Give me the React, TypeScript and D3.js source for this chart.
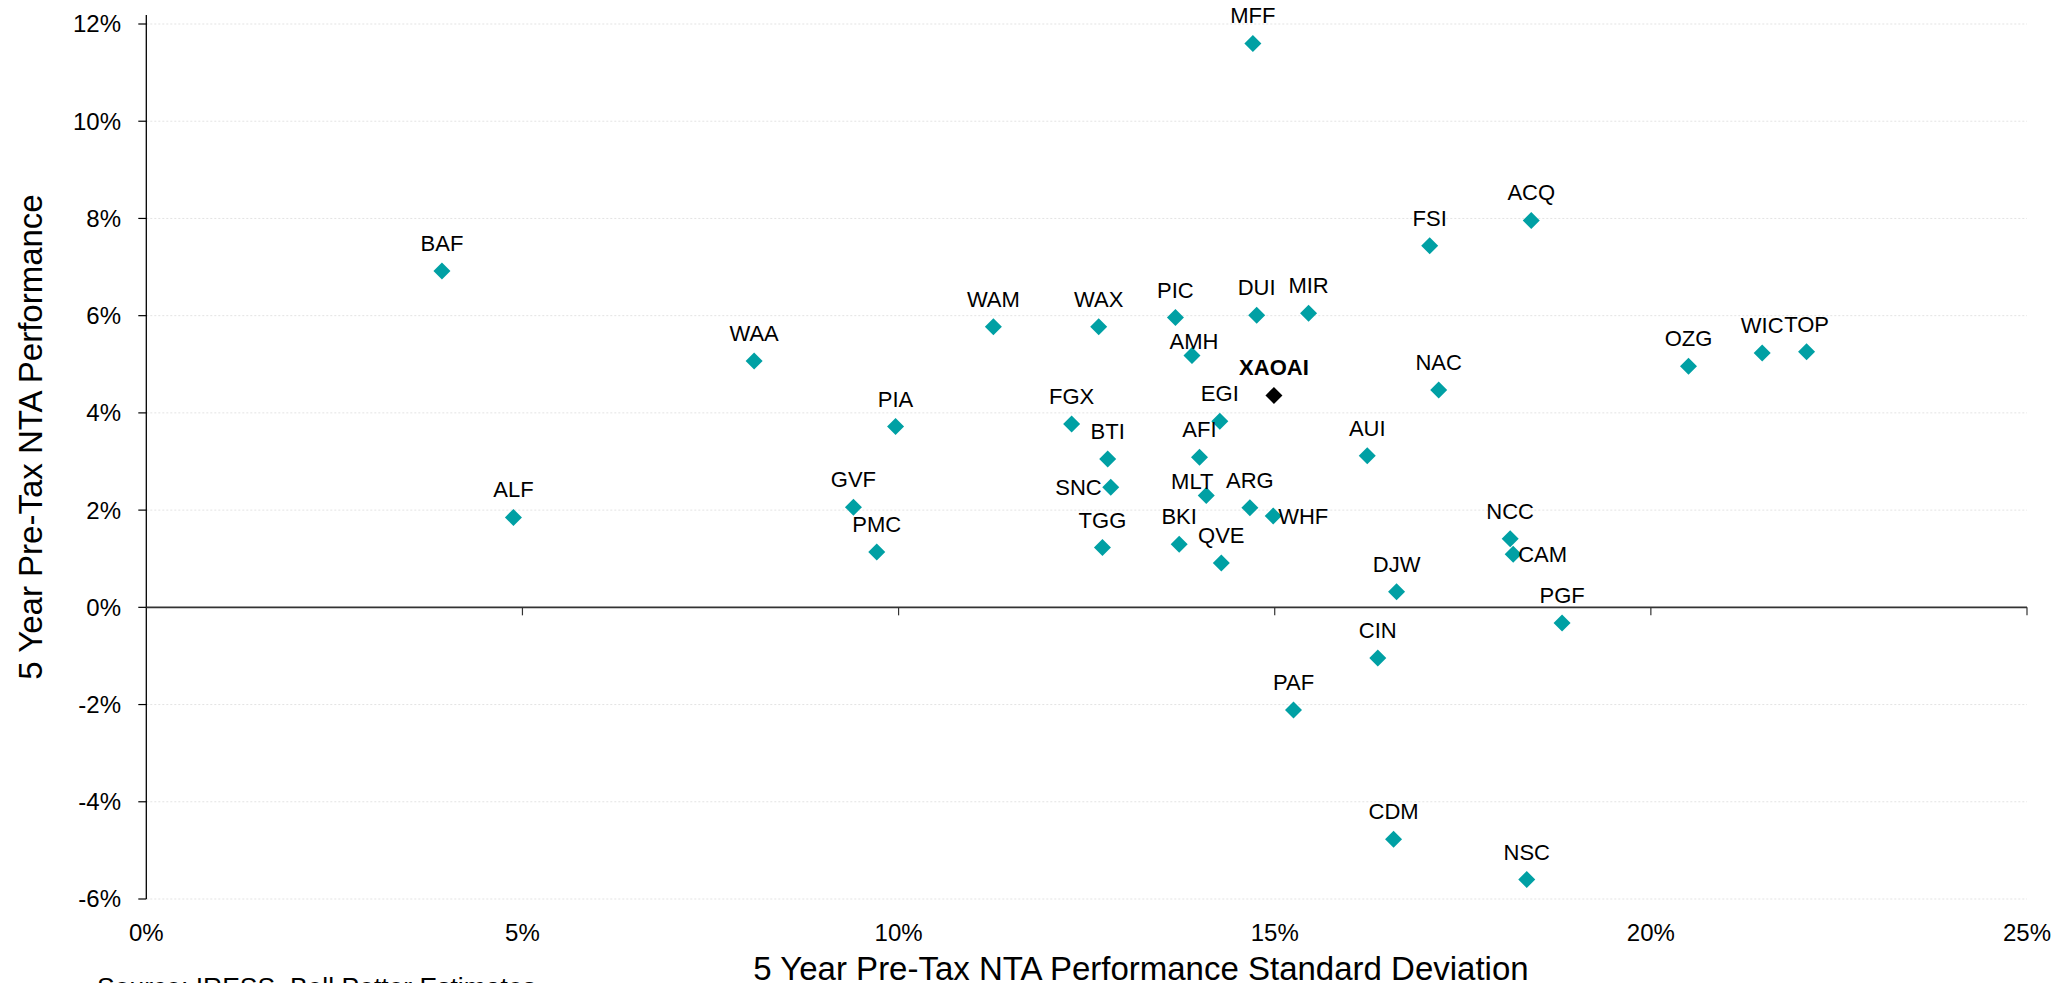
import React from 'react';
import * as d3 from 'd3';

// fund codes, 5yr std dev (%) and 5yr pre-tax NTA performance (%)
const codes = ['BAF', 'ALF', 'WAA', 'PIA', 'GVF', 'PMC', 'WAM', 'FGX', 'WAX', 'BTI',
  'SNC', 'TGG', 'PIC', 'AMH', 'BKI', 'AFI', 'MLT', 'EGI', 'QVE', 'ARG',
  'MFF', 'DUI', 'XAOAI', 'WHF', 'PAF', 'MIR', 'AUI', 'CIN', 'CDM', 'DJW',
  'FSI', 'NAC', 'NCC', 'CAM', 'NSC', 'ACQ', 'PGF', 'OZG', 'WIC', 'TOP'];

const stdDev = [3.93, 4.88, 8.08, 9.96, 9.40, 9.71, 11.26, 12.30, 12.66, 12.78,
  12.82, 12.71, 13.68, 13.90, 13.73, 14.00, 14.09, 14.27, 14.29, 14.67,
  14.71, 14.76, 14.99, 14.98, 15.25, 15.45, 16.23, 16.37, 16.58, 16.62,
  17.06, 17.18, 18.13, 18.17, 18.35, 18.41, 18.82, 20.50, 21.48, 22.07];

const performance = [6.92, 1.85, 5.07, 3.72, 2.06, 1.14, 5.77, 3.77, 5.77, 3.05,
  2.47, 1.23, 5.96, 5.18, 1.30, 3.09, 2.30, 3.83, 0.91, 2.05,
  11.60, 6.01, 4.36, 1.88, -2.11, 6.05, 3.12, -1.04, -4.77, 0.32,
  7.44, 4.47, 1.41, 1.09, -5.60, 7.96, -0.32, 4.96, 5.23, 5.26];

const benchmark = 'XAOAI';

const xTicks = [0, 5, 10, 15, 20, 25];
const yTicks = [-6, -4, -2, 0, 2, 4, 6, 8, 10, 12];

// labels that excel had nudged off the default "above" spot
const labelPos = {
  SNC: { side: 'left' },
  WHF: { side: 'right' },
  CAM: { side: 'right' },
  AMH: { dx: 2, dy: 13 },
  MLT: { dx: -14, dy: 13 },
};

const W = 2071;
const H = 983;
const font = 'Liberation Sans, Arial, sans-serif';

const App = () => {
  const x = d3.scaleLinear().domain([0, 25]).range([146.3, 2027]);
  const y = d3.scaleLinear().domain([-6, 12]).range([899, 24]);

  const points = codes.map((c, i) => ({ code: c, sd: stdDev[i], perf: performance[i] }));

  const diamond = (cx, cy) => `M${cx},${cy - 8.5}L${cx + 8.5},${cy}L${cx},${cy + 8.5}L${cx - 8.5},${cy}Z`;

  return (
    <svg width={W} height={H} style={{ position: 'absolute', left: 0, top: 0, background: '#fff' }}>
      {/* gridlines */}
      {yTicks.filter(t => t !== 0).map(t => (
        <line key={'g' + t} x1={x(0)} x2={x(25)} y1={y(t)} y2={y(t)}
          stroke="#e3e3e3" strokeWidth={1} strokeDasharray="2,2" />
      ))}

      {/* y axis */}
      <line x1={x(0)} x2={x(0)} y1={y(12) - 9} y2={y(-6)} stroke="#000" strokeWidth={1.3} />
      {yTicks.map(t => (
        <g key={'y' + t}>
          <line x1={x(0) - 8} x2={x(0)} y1={y(t)} y2={y(t)} stroke="#000" strokeWidth={1.2} />
          <text x={121} y={y(t)} dy="0.35em" textAnchor="end" fontFamily={font} fontSize={24} fill="#000">
            {t + '%'}
          </text>
        </g>
      ))}

      {/* x axis along zero */}
      <line x1={x(0)} x2={x(25)} y1={y(0)} y2={y(0)} stroke="#333" strokeWidth={1.6} />
      {xTicks.map(t => (
        <g key={'x' + t}>
          {t > 0 && <line x1={x(t)} x2={x(t)} y1={y(0)} y2={y(0) + 8} stroke="#333" strokeWidth={1.2} />}
          <text x={x(t)} y={941} textAnchor="middle" fontFamily={font} fontSize={24} fill="#000">
            {t + '%'}
          </text>
        </g>
      ))}

      {/* axis titles */}
      <text transform={`translate(42,437) rotate(-90)`} textAnchor="middle" fontFamily={font} fontSize={33} fill="#000">
        5 Year Pre-Tax NTA Performance
      </text>
      <text x={1141} y={980} textAnchor="middle" fontFamily={font} fontSize={33} fill="#000">
        5 Year Pre-Tax NTA Performance Standard Deviation
      </text>
      <text x={97} y={996} fontFamily={font} fontSize={26.5} fill="#000">
        Source: IRESS, Bell Potter Estimates
      </text>

      {/* points */}
      {points.map(p => {
        const cx = x(p.sd);
        const cy = y(p.perf);
        const isBench = p.code === benchmark;
        return (
          <path key={'p' + p.code} d={diamond(cx, cy)} fill={isBench ? '#000' : '#00A0A4'} />
        );
      })}

      {/* labels */}
      {points.map(p => {
        const cx = x(p.sd);
        const cy = y(p.perf);
        const isBench = p.code === benchmark;
        const pos = labelPos[p.code] || {};
        let lx = cx + (pos.dx || 0);
        let ly = cy - 20 + (pos.dy || 0);
        let anchor = 'middle';
        let dy = '0';
        if (pos.side === 'left') { lx = cx - 9; ly = cy; anchor = 'end'; dy = '0.35em'; }
        if (pos.side === 'right') { lx = cx + 5; ly = cy; anchor = 'start'; dy = '0.35em'; }
        return (
          <text key={'l' + p.code} x={lx} y={ly} dy={dy} textAnchor={anchor}
            fontFamily={font} fontSize={22} fontWeight={isBench ? 'bold' : 'normal'} fill="#000">
            {p.code}
          </text>
        );
      })}
    </svg>
  );
};

export default App;
